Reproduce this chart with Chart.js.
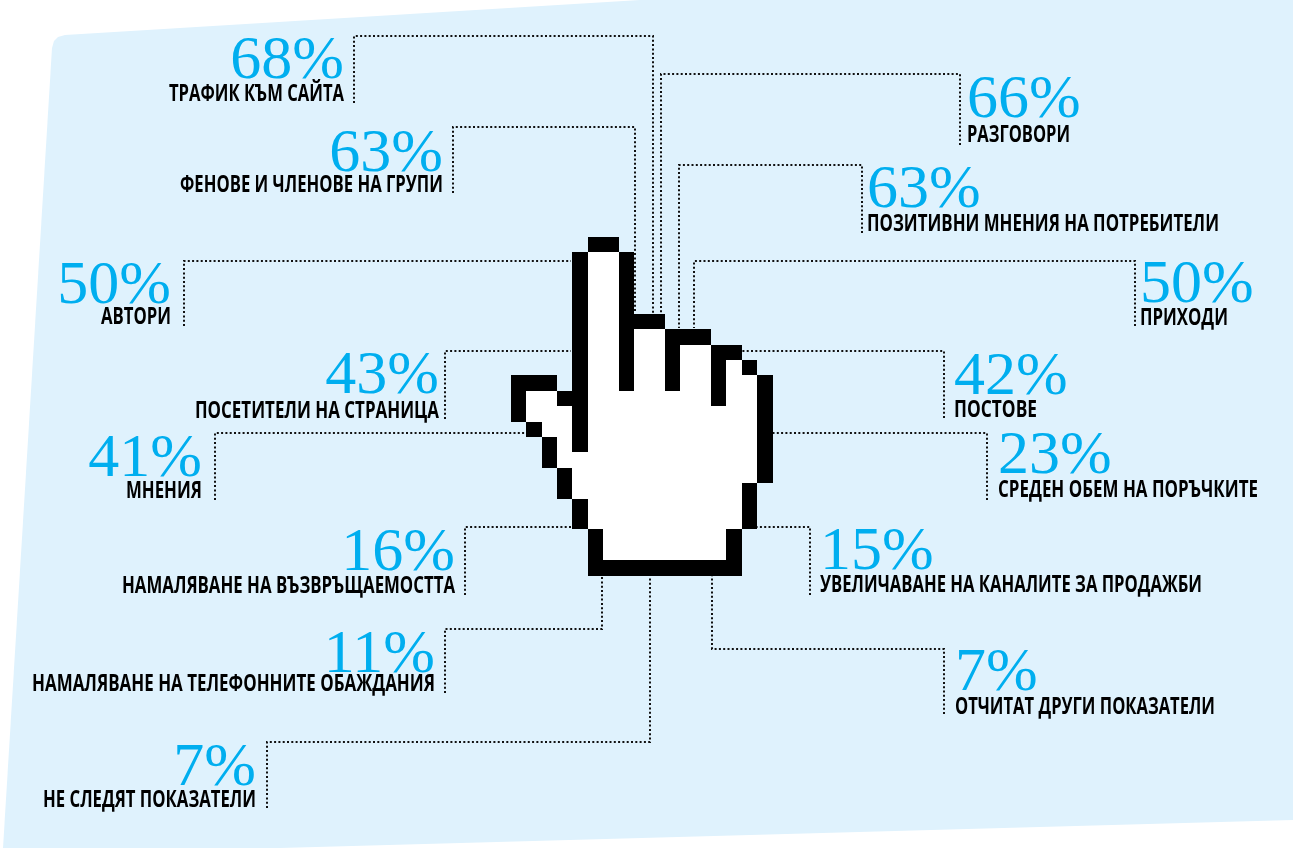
<!DOCTYPE html>
<html lang="bg">
<head>
<meta charset="utf-8">
<title>Показатели</title>
<style>
  html, body { margin: 0; padding: 0; background: #fff; }
  canvas { display: block; }
</style>
<script src="https://cdn.jsdelivr.net/npm/chart.js@4/dist/chart.umd.min.js"></script>
</head>
<body>
<canvas id="myChart" width="1293" height="848"></canvas>
<script>
const categories = ['ТРАФИК КЪМ САЙТА', 'ФЕНОВЕ И ЧЛЕНОВЕ НА ГРУПИ', 'АВТОРИ', 'ПОСЕТИТЕЛИ НА СТРАНИЦА', 'МНЕНИЯ',
  'НАМАЛЯВАНЕ НА ВЪЗВРЪЩАЕМОСТТА', 'НАМАЛЯВАНЕ НА ТЕЛЕФОННИТЕ ОБАЖДАНИЯ', 'НЕ СЛЕДЯТ ПОКАЗАТЕЛИ',
  'РАЗГОВОРИ', 'ПОЗИТИВНИ МНЕНИЯ НА ПОТРЕБИТЕЛИ', 'ПРИХОДИ', 'ПОСТОВЕ', 'СРЕДЕН ОБЕМ НА ПОРЪЧКИТЕ',
  'УВЕЛИЧАВАНЕ НА КАНАЛИТЕ ЗА ПРОДАЖБИ', 'ОТЧИТАТ ДРУГИ ПОКАЗАТЕЛИ'];
const values = [68, 63, 50, 43, 41, 16, 11, 7, 66, 63, 50, 42, 23, 15, 7];

// layout, same order as categories: text anchor x, baselines, width of the label
const anchorX = [344, 443, 171, 439, 202, 455, 435, 256, 967, 867, 1140, 954, 998, 820, 955];
const valueY = [78, 171, 303, 393, 476, 570, 672, 785, 117, 207, 302, 394, 473, 569, 690];
const labelY = [101, 192, 324, 418, 498, 593, 691, 807, 142, 231, 325, 417, 497, 592, 714];
const labelW = [175, 263, 70, 244, 76, 333, 403, 213, 103, 352, 88, 83, 260, 382, 260];

const leaders = [
  [[354, 103], [354, 36], [653, 36], [653, 313]],
  [[453, 193], [453, 127], [635, 127], [635, 313]],
  [[184, 326], [184, 261], [571, 261]],
  [[445, 419], [445, 351], [571, 351]],
  [[215, 500], [215, 433], [526, 433]],
  [[465, 595], [465, 527], [572, 527]],
  [[445, 693], [445, 629], [602, 629], [602, 576]],
  [[267, 808], [267, 742], [650, 742], [650, 576]],
  [[960, 145], [960, 74], [661, 74], [661, 313]],
  [[862, 233], [862, 165], [679, 165], [679, 328]],
  [[1135, 326], [1135, 261], [694, 261], [694, 328]],
  [[944, 418], [944, 351], [742, 351]],
  [[987, 500], [987, 433], [773, 433]],
  [[810, 595], [810, 527], [757, 527]],
  [[944, 714], [944, 649], [712, 649], [712, 576]]
];

const panel = [[65, 35], [58, 37], [54, 41], [52, 48], [3, 848], [280, 848], [1293, 820], [1293, 0], [640, 0]];

const hand = [
  '.....XX..........',
  '....XooX.........',
  '....XooX.........',
  '....XooX.........',
  '....XooX.........',
  '....XooXXX.......',
  '....XooXooXXX....',
  '....XooXooXooXX..',
  '....XooXooXooXoX.',
  'XXX.XooXooXooXooX',
  'XooXXooooooooXooX',
  'XoooXoooooooooooX',
  '.XooXoooooooooooX',
  '..XoXoooooooooooX',
  '..XoooooooooooooX',
  '...XooooooooooooX',
  '...XoooooooooooX.',
  '....XooooooooooX.',
  '....XooooooooooX.',
  '.....XooooooooX..',
  '.....XooooooooX..',
  '.....XXXXXXXXXX..'
];
const handLeft = 510.7;
const handTop = 236.7;
const handCell = 15.4;

const toPoints = pts => pts.map(p => ({ x: p[0], y: p[1] }));

const infographic = {
  id: 'infographic',
  afterDatasetsDraw(chart) {
    const { ctx, scales: { x, y } } = chart;
    ctx.save();

    // the pixel hand
    hand.forEach((row, r) => {
      const top = Math.round(y.getPixelForValue(handTop + r * handCell));
      const bottom = Math.round(y.getPixelForValue(handTop + (r + 1) * handCell));
      [...row].forEach((c, k) => {
        if (c === '.') return;
        const left = Math.round(x.getPixelForValue(handLeft + k * handCell));
        const right = Math.round(x.getPixelForValue(handLeft + (k + 1) * handCell));
        ctx.fillStyle = c === 'X' ? '#000' : '#fff';
        ctx.fillRect(left, top, right - left, bottom - top);
      });
    });

    // percentages and names, first 8 hang on the left side
    categories.forEach((name, i) => {
      const px = x.getPixelForValue(anchorX[i]);
      const align = i < 8 ? 'right' : 'left';
      ctx.textAlign = align;
      ctx.textBaseline = 'alphabetic';
      ctx.fillStyle = '#00aeef';
      ctx.font = '62px "Liberation Serif"';
      ctx.fillText(values[i] + '%', px, y.getPixelForValue(valueY[i]));
      ctx.fillStyle = '#000';
      ctx.font = '700 23px "Open Sans"';
      ctx.fillText(name, px, y.getPixelForValue(labelY[i]), labelW[i]);
    });
    ctx.restore();
  }
};

const datasets = leaders.map(line => ({
  data: toPoints(line),
  showLine: true,
  fill: false,
  borderColor: '#111',
  borderWidth: 2,
  borderDash: [2, 2.3],
  pointRadius: 0
}));
// chart.js paints the last dataset first, the panel has to stay underneath
datasets.push({
  data: toPoints(panel),
  showLine: true,
  fill: 'shape',
  backgroundColor: '#dff2fd',
  borderWidth: 0,
  pointRadius: 0
});

new Chart(document.getElementById('myChart').getContext('2d'), {
  type: 'scatter',
  data: { datasets: datasets },
  options: {
    responsive: false,
    animation: false,
    layout: { padding: 0 },
    plugins: { legend: { display: false }, tooltip: { enabled: false } },
    scales: {
      x: { type: 'linear', display: false, min: 0, max: 1293 },
      y: { type: 'linear', display: false, min: 0, max: 848, reverse: true }
    }
  },
  plugins: [infographic]
});
</script>
</body>
</html>
